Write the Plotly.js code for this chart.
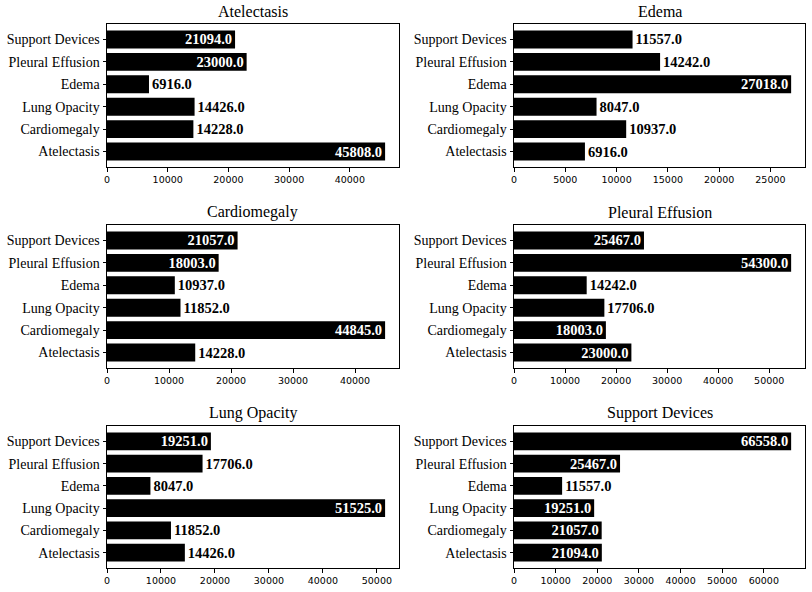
<!DOCTYPE html>
<html>
<head>
<meta charset="utf-8">
<script src="https://cdn.plot.ly/plotly-3.0.1.min.js"></script>
<style>html,body{margin:0;padding:0;background:#fff;}#chart{width:812px;height:592px;}</style>
</head>
<body>
<div id="chart"></div>
<script>
// Categories (bottom to top)
const categories = ['Atelectasis', 'Cardiomegaly', 'Lung Opacity', 'Edema', 'Pleural Effusion', 'Support Devices'];

// Panel titles in reading order
const panelTitles = ['Atelectasis', 'Edema', 'Cardiomegaly', 'Pleural Effusion', 'Lung Opacity', 'Support Devices'];

// Co-occurrence counts per panel
const atelectasisCounts     = [45808, 14228, 14426, 6916, 23000, 21094];
const edemaCounts           = [6916, 10937, 8047, 27018, 14242, 11557];
const cardiomegalyCounts    = [14228, 44845, 11852, 10937, 18003, 21057];
const pleuralEffusionCounts = [23000, 18003, 17706, 14242, 54300, 25467];
const lungOpacityCounts     = [14426, 11852, 51525, 8047, 17706, 19251];
const supportDevicesCounts  = [21094, 21057, 19251, 11557, 25467, 66558];

const panelValues = [atelectasisCounts, edemaCounts, cardiomegalyCounts,
                     pleuralEffusionCounts, lungOpacityCounts, supportDevicesCounts];
const panelDticks = [10000, 5000, 10000, 10000, 10000, 10000];

// Layout geometry (pixels)
const W = 812, H = 592;
const colX = [[107, 399], [514, 805]];
const rowY = [[24, 167], [225, 368], [426, 568]];
const insideThreshold = 18000;

const traces = [];
const layout = {
  width: W, height: H,
  margin: {l: 0, r: 0, t: 0, b: 0},
  paper_bgcolor: '#fff', plot_bgcolor: '#fff',
  font: {family: 'Liberation Serif, serif', color: '#000'},
  showlegend: false,
  annotations: []
};

panelValues.forEach((vals, i) => {
  const r = Math.floor(i / 2), c = i % 2;
  const n = i + 1;
  const sfx = n === 1 ? '' : String(n);
  const xd = [colX[c][0] / W, colX[c][1] / W];
  const yd = [1 - rowY[r][1] / H, 1 - rowY[r][0] / H];
  const maxV = Math.max(...vals);

  traces.push({
    type: 'bar',
    orientation: 'h',
    x: vals,
    y: categories,
    xaxis: 'x' + sfx,
    yaxis: 'y' + sfx,
    width: 0.8,
    marker: {color: '#000', line: {width: 0}},
    text: vals.map(v => v.toFixed(1)),
    textposition: vals.map(v => v > insideThreshold ? 'inside' : 'outside'),
    insidetextanchor: 'end',
    constraintext: 'none',
    cliponaxis: false,
    textfont: {family: 'Liberation Serif, serif', size: 14.5, weight: 'bold'},
    insidetextfont: {family: 'Liberation Serif, serif', size: 14.5, color: '#fff', weight: 'bold'},
    outsidetextfont: {family: 'Liberation Serif, serif', size: 14.5, color: '#000', weight: 'bold'},
    hoverinfo: 'none'
  });

  layout['xaxis' + sfx] = {
    domain: xd,
    anchor: 'y' + sfx,
    range: [0, maxV * 1.05],
    dtick: panelDticks[i],
    tick0: 0,
    tickformat: 'd',
    showgrid: false, zeroline: false,
    showline: true, linecolor: '#000', linewidth: 1, mirror: true,
    ticks: 'outside', ticklen: 3.5, tickwidth: 1, tickcolor: '#000',
    tickfont: {family: 'DejaVu Sans, sans-serif', size: 9.5, color: '#000'},
    fixedrange: true
  };
  layout['yaxis' + sfx] = {
    domain: yd,
    anchor: 'x' + sfx,
    type: 'category',
    categoryorder: 'array',
    categoryarray: categories,
    range: [-0.69, 5.69],
    showgrid: false, zeroline: false,
    showline: true, linecolor: '#000', linewidth: 1, mirror: true,
    ticks: 'outside', ticklen: 3.5, tickwidth: 1, tickcolor: '#000',
    tickfont: {family: 'Liberation Serif, serif', size: 14, color: '#000'},
    fixedrange: true
  };

  layout.annotations.push({
    text: panelTitles[i],
    xref: 'paper', yref: 'paper',
    x: (xd[0] + xd[1]) / 2, y: yd[1],
    xanchor: 'center', yanchor: 'bottom',
    yshift: 2,
    showarrow: false,
    font: {family: 'Liberation Serif, serif', size: 16, color: '#000'}
  });
});

Plotly.newPlot('chart', traces, layout, {staticPlot: true, displayModeBar: false});
</script>
</body>
</html>
